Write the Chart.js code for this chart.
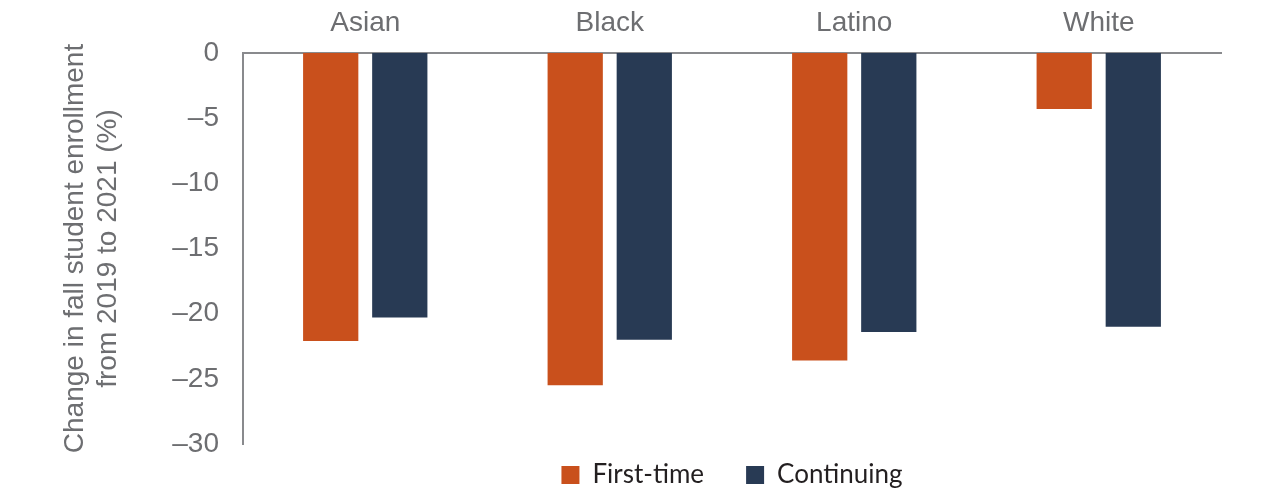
<!DOCTYPE html>
<html>
<head>
<meta charset="utf-8">
<script src="https://cdn.jsdelivr.net/npm/chart.js@4"></script>
<style>
  html, body { margin: 0; padding: 0; background: #fff; }
  #wrap { width: 1280px; height: 500px; }
</style>
</head>
<body>
<div id="wrap"><canvas id="graph" width="1280" height="500"></canvas></div>
<script>
const groups = ['Asian', 'Black', 'Latino', 'White'];
const firstTime = [-22.1, -25.5, -23.6, -4.3];
const continuing = [-20.3, -22.0, -21.4, -21.0];
const yTicks = [0, -5, -10, -15, -20, -25, -30];

const grey = '#6d6e71';
const ctx = document.getElementById("graph").getContext("2d");

// keep the legend centred under the plot area, with its row near the bottom
const legendPlace = {
    id: 'legendPlace',
    afterLayout(chart) {
        const lg = chart.legend;
        const area = chart.chartArea;
        lg.left = area.left;
        lg.right = area.right;
        lg.top = area.bottom + 18 - lg.options.labels.padding;
    }
};

const myChart = new Chart(ctx, {
    type: 'bar',
    data: {
        labels: groups,
        datasets: [{
            label: 'First-time',
            data: firstTime,
            backgroundColor: '#c9501c',
            barPercentage: 0.8,
            categoryPercentage: 0.565
        }, {
            label: 'Continuing',
            data: continuing,
            backgroundColor: '#283a54',
            barPercentage: 0.8,
            categoryPercentage: 0.565
        }]
    },
    plugins: [legendPlace],
    options: {
        responsive: false,
        animation: false,
        layout: { padding: { left: 0, right: 59, top: 1, bottom: 0 } },
        plugins: {
            tooltip: { enabled: false },
            legend: {
                position: 'bottom',
                maxHeight: 56,
                labels: {
                    color: '#231f20',
                    font: { family: 'Lato', size: 26 },
                    boxWidth: 18,
                    boxHeight: 18,
                    padding: 42,
                    useBorderRadius: false
                }
            }
        },
        scales: {
            x: {
                position: 'top',
                afterFit: (axis) => { axis.height = 52; },
                grid: { display: false },
                border: { display: true, color: '#898a8d', width: 2 },
                ticks: {
                    color: grey,
                    padding: 5,
                    font: { family: 'Liberation Sans', size: 28 }
                }
            },
            y: {
                min: -30,
                max: 0,
                afterFit: (axis) => { axis.width = 243; },
                afterBuildTicks: (axis) => {
                    axis.ticks = yTicks.map(v => ({ value: v }));
                },
                grid: { display: false },
                border: { display: true, color: '#898a8d', width: 2 },
                ticks: {
                    color: grey,
                    padding: 16,
                    font: { family: 'Liberation Sans', size: 28 },
                    callback: (v) => v < 0 ? '\u2013' + Math.abs(v) : String(v)
                },
                title: {
                    display: true,
                    text: ['Change in fall student enrollment', 'from 2019 to 2021 (%)'],
                    color: grey,
                    padding: { top: 58, bottom: 0 },
                    font: { family: 'Liberation Sans', size: 28, lineHeight: 1.2 }
                }
            }
        }
    }
});
</script>
</body>
</html>
